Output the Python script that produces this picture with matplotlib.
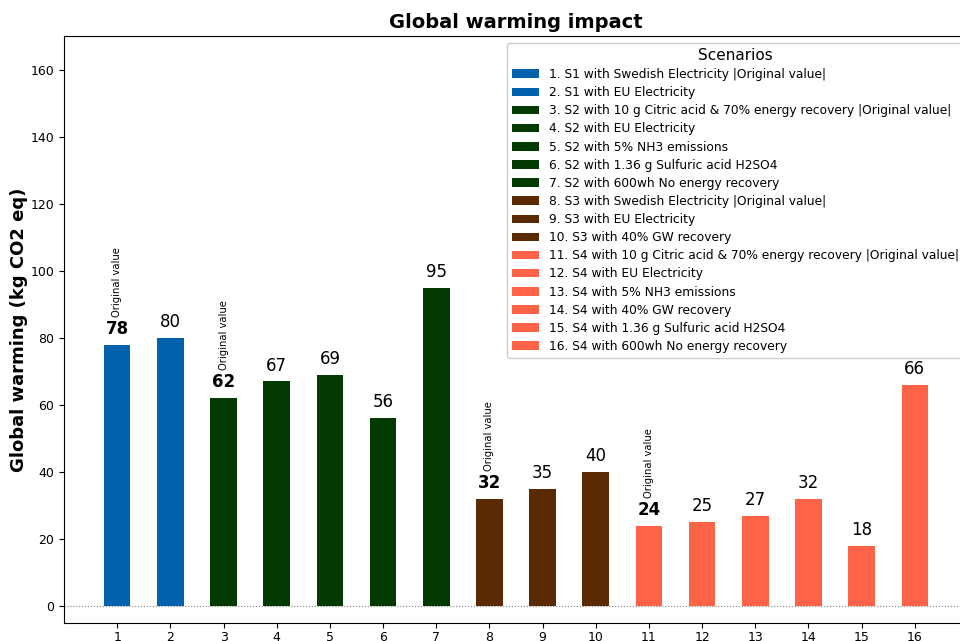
import matplotlib.pyplot as plt
import numpy as np

# Global warming impact per scenario (kg CO2 eq)
scenario_ids = list(range(1, 17))
values = [78, 80, 62, 67, 69, 56, 95, 32, 35, 40, 24, 25, 27, 32, 18, 66]
original = [1, 3, 8, 11]  # scenarios that hold the original value
labels = [
    "1. S1 with Swedish Electricity |Original value|",
    "2. S1 with EU Electricity",
    "3. S2 with 10 g Citric acid & 70% energy recovery |Original value|",
    "4. S2 with EU Electricity",
    "5. S2 with 5% NH3 emissions",
    "6. S2 with 1.36 g Sulfuric acid H2SO4",
    "7. S2 with 600wh No energy recovery",
    "8. S3 with Swedish Electricity |Original value|",
    "9. S3 with EU Electricity",
    "10. S3 with 40% GW recovery",
    "11. S4 with 10 g Citric acid & 70% energy recovery |Original value|",
    "12. S4 with EU Electricity",
    "13. S4 with 5% NH3 emissions",
    "14. S4 with 40% GW recovery",
    "15. S4 with 1.36 g Sulfuric acid H2SO4",
    "16. S4 with 600wh No energy recovery",
]
groups = ["S1"] * 2 + ["S2"] * 5 + ["S3"] * 3 + ["S4"] * 6
group_colors = {"S1": "#0461ac", "S2": "#023a02", "S3": "#5a2a02", "S4": "#ff6347"}

fig = plt.figure(figsize=(9.6, 6.41), dpi=100)
ax = fig.add_axes([64 / 960, 18 / 641, 904 / 960, 587 / 641])

colors = [group_colors[g] for g in groups]
bars = ax.bar(scenario_ids, values, width=0.5, color=colors, label=labels)

for sid, v in zip(scenario_ids, values):
    bold = sid in original
    ax.annotate(str(v), (sid, v), xytext=(0, 5), textcoords="offset points",
                ha="center", va="bottom", fontsize=12,
                fontweight="bold" if bold else "normal")
    if bold:
        ax.annotate("Original value", (sid, v), xytext=(0, 20), textcoords="offset points",
                    ha="center", va="bottom", fontsize=7.2, rotation=90)

ax.axhline(0, color="gray", linestyle=":", linewidth=0.8)
ax.set_xlim(0, 17)
ax.set_ylim(-5, 170)
ax.set_xticks(scenario_ids)
ax.set_yticks(np.arange(0, 170, 20))
ax.tick_params(labelsize=9)
ax.tick_params(axis="x", pad=2.5)
ax.set_title("Global warming impact", fontsize=14, fontweight="bold")
ax.set_ylabel("Global warming (kg CO2 eq)", fontsize=13, fontweight="bold", labelpad=2)

ax.legend(handles=bars.patches, labels=labels, title="Scenarios", fontsize=8.8,
          title_fontsize=11, loc="upper left", bbox_to_anchor=(507 / 960, 1 - 43 / 641),
          bbox_transform=fig.transFigure, borderaxespad=0, labelspacing=0.42,
          handlelength=2.2, framealpha=1, edgecolor="#cccccc")

fig.savefig("out.png", dpi=100)
